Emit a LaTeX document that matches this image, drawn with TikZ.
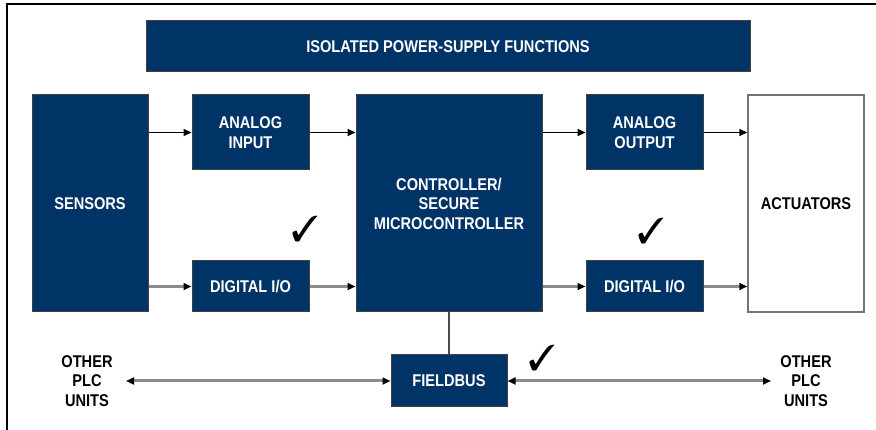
\documentclass[tikz,border=0pt]{standalone}
\usepackage{pifont}
\usepackage{fontspec}
\setmainfont{Liberation Sans}[FakeStretch=0.86]
\usetikzlibrary{arrows.meta}
\definecolor{plcblue}{RGB}{0,51,102}

\begin{document}
\begin{tikzpicture}[x=1pt,y=-1pt,
  every node/.style={font=\fontsize{17}{19.5}\selectfont\bfseries, align=center},
  blok/.style={draw=black!75, line width=1pt, fill=plcblue, text=white, inner sep=0pt},
  sig/.style={-{Triangle[length=8pt,width=7pt]}, line width=1.5pt},
  gsig/.style={-{Triangle[length=8pt,width=7pt,color=black]}, line width=3pt, draw=black!45},
  gbus/.style={{Triangle[length=8pt,width=7pt,color=black]}-{Triangle[length=8pt,width=7pt,color=black]}, line width=3pt, draw=black!45},
  vink/.style={font=\fontsize{36}{36}\selectfont, inner sep=0pt}]
\useasboundingbox (0,0) rectangle (876,430);
% kader
\draw[line width=2pt] (7,430) -- (7,4) -- (876,4);
%
% blokken
\node[blok, minimum width=604pt, minimum height=51pt] (voeding) at (448,46.5) {ISOLATED POWER-SUPPLY FUNCTIONS};
\node[blok, minimum width=116pt, minimum height=217pt] (sensoren) at (90,203.5) {SENSORS};
\node[blok, minimum width=117pt, minimum height=75pt] (ain) at (250.5,132.5) {ANALOG\\INPUT};
\node[blok, minimum width=117pt, minimum height=51pt] (dinL) at (250.5,286.5) {DIGITAL I/O};
\node[blok, minimum width=186pt, minimum height=217pt] (ctrl) at (449,203.5) {CONTROLLER/\\SECURE\\MICROCONTROLLER};
\node[blok, minimum width=117pt, minimum height=75pt] (aout) at (644.5,132.5) {ANALOG\\OUTPUT};
\node[blok, minimum width=117pt, minimum height=51pt] (dinR) at (644.5,286.5) {DIGITAL I/O};
\node[draw=black!55, line width=1.5pt, fill=white, inner sep=0pt, minimum width=116pt, minimum height=217pt] (act) at (806,203.5) {ACTUATORS};
\node[blok, minimum width=116pt, minimum height=52pt] (fb) at (449,381) {FIELDBUS};
%
% andere PLC's
\node (plcL) at (87,381) {OTHER\\PLC\\UNITS};
\node (plcR) at (806,381) {OTHER\\PLC\\UNITS};
\coordinate (busL) at (126,381);
\coordinate (busR) at (771,381);
%
% verbindingen
\draw[sig] (sensoren.east |- ain) -- (ain);
\draw[sig] (ain) -- (ctrl.west |- ain);
\draw[sig] (ctrl.east |- aout) -- (aout);
\draw[sig] (aout) -- (act.west |- aout);
\draw[gsig] (sensoren.east |- dinL) -- (dinL);
\draw[gsig] (dinL) -- (ctrl.west |- dinL);
\draw[gsig] (ctrl.east |- dinR) -- (dinR);
\draw[gsig] (dinR) -- (act.west |- dinR);
\draw[black!70, line width=1.5pt] (ctrl) -- (fb);
\draw[gbus] (busL) -- (fb);
\draw[gbus] (fb) -- (busR);
%
% vinkjes
\node[vink] (vinkA) at (305,229) {\ding{51}};
\node[vink] (vinkB) at (651,231) {\ding{51}};
\node[vink] (vinkC) at (542,358) {\ding{51}};
\end{tikzpicture}
\end{document}
